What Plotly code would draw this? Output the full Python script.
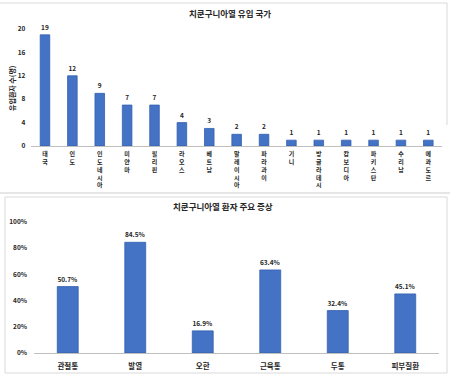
import plotly.graph_objects as go

# ---- data ----
countries = ["태국", "인도", "인도네시아", "미얀마", "필리핀", "라오스", "베트남", "말레이시아",
             "파라과이", "기니", "방글라데시", "캄보디아", "파키스탄", "수리남", "에콰도르"]
patients = [19, 12, 9, 7, 7, 4, 3, 2, 2, 1, 1, 1, 1, 1, 1]
top_yticks = [0, 4, 8, 12, 16, 20]

symptoms = ["관절통", "발열", "오한", "근육통", "두통", "피부질환"]
symptom_pct = [50.7, 84.5, 16.9, 63.4, 32.4, 45.1]
bot_yticks = [0, 20, 40, 60, 80, 100]

FONT = "Noto Sans CJK KR"
BAR = "#4472C4"
EDGE = "#3461B0"
TXT = "#262626"
W, H = 450, 377

def vertical(s):
    return "<b>" + "<br>".join(list(s)) + "</b>"

fig = go.Figure()

fig.add_trace(go.Bar(
    x=countries, y=patients, xaxis="x", yaxis="y",
    marker=dict(color=BAR, line=dict(color=EDGE, width=0.8)),
    width=0.35,
    text=[f"<b>{v}</b>" for v in patients], textposition="outside",
    textfont=dict(family=FONT, size=6.5, color=TXT),
    cliponaxis=False,
))

fig.add_trace(go.Bar(
    x=symptoms, y=symptom_pct, xaxis="x2", yaxis="y2",
    marker=dict(color=BAR, line=dict(color=EDGE, width=0.8)),
    width=0.31,
    text=[f"<b>{v:.1f}%</b>" for v in symptom_pct], textposition="outside",
    textfont=dict(family=FONT, size=6.5, color=TXT),
    cliponaxis=False,
))

def py(px):
    return 1 - px / H

fig.update_layout(
    width=W, height=H, autosize=False,
    margin=dict(l=0, r=0, t=0, b=0, autoexpand=False),
    paper_bgcolor="white", plot_bgcolor="white",
    showlegend=False,
    font=dict(family=FONT, color=TXT),
    xaxis=dict(domain=[31.3 / W, 442 / W], anchor="y", automargin=False,
               tickmode="array", tickvals=countries,
               ticktext=[vertical(c) for c in countries],
               tickfont=dict(family=FONT, size=6, color=TXT),
               showline=True, linecolor="#BFBFBF", linewidth=1,
               showgrid=False, ticks="", fixedrange=True,
               ticklabelstandoff=2),
    yaxis=dict(domain=[py(146), py(29)], anchor="x", range=[0, 20], automargin=False,
               tickvals=top_yticks, ticktext=[f"<b>{v}</b>" for v in top_yticks],
               tickfont=dict(family=FONT, size=6.5, color=TXT),
               showgrid=False, zeroline=False, showline=False, ticks="",
               ticklabelstandoff=5),
    xaxis2=dict(domain=[34 / W, 439 / W], anchor="y2", automargin=False,
                tickmode="array", tickvals=symptoms,
                ticktext=[f"<b>{s}</b>" for s in symptoms],
                tickfont=dict(family=FONT, size=7.5, color=TXT),
                showline=True, linecolor="#BFBFBF", linewidth=1,
                showgrid=False, ticks="", ticklabelstandoff=6),
    yaxis2=dict(domain=[py(353), py(222)], anchor="x2", range=[0, 100], automargin=False,
                tickvals=bot_yticks, ticktext=[f"<b>{v}%</b>" for v in bot_yticks],
                tickfont=dict(family=FONT, size=6.5, color=TXT),
                showgrid=False, zeroline=False, showline=False, ticks="",
                ticklabelstandoff=6),
    annotations=[
        dict(text="<b>치쿤구니아열 유입 국가</b>", xref="paper", yref="paper",
             x=230 / W, y=py(13), showarrow=False, xanchor="center", yanchor="middle",
             font=dict(family=FONT, size=8.5, color=TXT)),
        dict(text="<b>유입환자 수(명)</b>", xref="paper", yref="paper",
             x=12 / W, y=py(88), showarrow=False, textangle=-90,
             xanchor="center", yanchor="middle",
             font=dict(family=FONT, size=7, color=TXT)),
        dict(text="<b>치쿤구니아열 환자 주요 증상</b>", xref="paper", yref="paper",
             x=223 / W, y=py(206), showarrow=False, xanchor="center", yanchor="middle",
             font=dict(family=FONT, size=8.5, color=TXT)),
    ],
    shapes=[
        dict(type="line", xref="paper", yref="paper", x0=0, x1=447 / W, y0=py(3), y1=py(3),
             line=dict(color="#D9D9D9", width=1)),
        dict(type="line", xref="paper", yref="paper", x0=447 / W, x1=447 / W, y0=py(3), y1=py(125),
             line=dict(color="#D9D9D9", width=1)),
        dict(type="line", xref="paper", yref="paper", x0=0, x1=1, y0=py(193), y1=py(193),
             line=dict(color="#E6E6E6", width=2)),
        dict(type="rect", xref="paper", yref="paper", x0=5 / W, x1=447 / W, y0=py(373), y1=py(197),
             line=dict(color="#D9D9D9", width=1)),
    ],
)

fig.write_html("out.html", config={"displayModeBar": False, "staticPlot": True},
               post_script="document.body.style.margin='0';document.body.style.overflow='hidden';")
